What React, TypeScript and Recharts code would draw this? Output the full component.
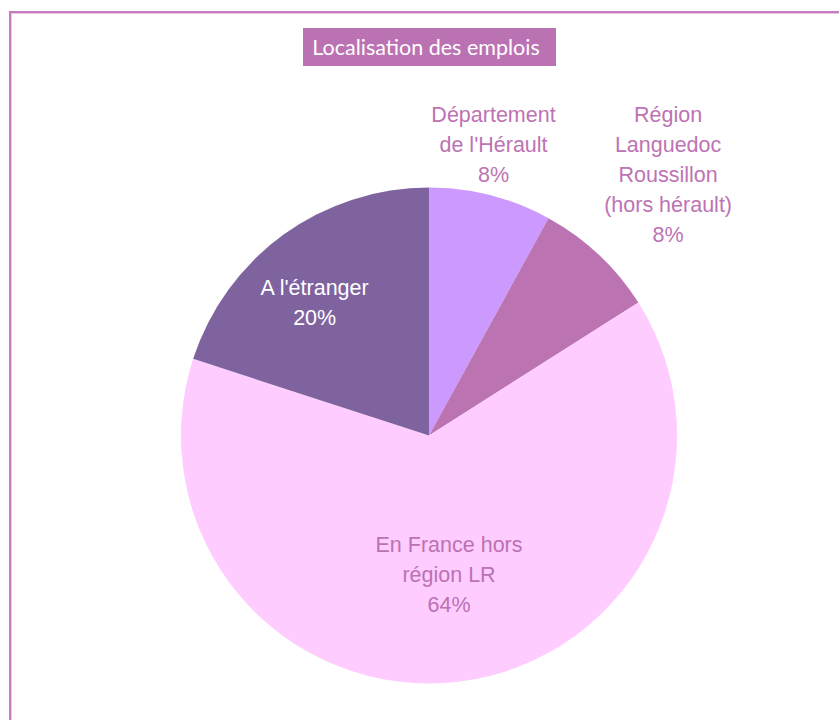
import React from "react";
import { PieChart, Pie, Cell } from "recharts";

const categories = [
  "Département de l'Hérault",
  "Région Languedoc Roussillon (hors hérault)",
  "En France hors région LR",
  "A l'étranger",
];
const values = [8, 8, 64, 20];
const labelLines = [
  ["Département", "de l'Hérault"],
  ["Région", "Languedoc", "Roussillon", "(hors hérault)"],
  ["En France hors", "région LR"],
  ["A l'étranger"],
];
const title = "Localisation des emplois";

const colors = ["#cc99ff", "#bb73b2", "#ffccff", "#7f639f"];
const textColors = ["#bd73b4", "#bd73b4", "#bb72b2", "#ffffff"];
// label placement: radius factor and angle offset (degrees) per slice
const labelRadius = [1.202, 1.427, 0.566, 0.707];
const labelAngleDelta = [1.9, 0.7, 1.0, 4.7];

const data = categories.map((name, i) => ({ name, value: values[i], idx: i }));

const RAD = Math.PI / 180;

const renderLabel = (props: any) => {
  const { cx, cy, midAngle, outerRadius, index, percent } = props;
  const r = outerRadius * labelRadius[index];
  const a = midAngle + labelAngleDelta[index];
  const x = cx + r * Math.cos(-a * RAD);
  const y = cy + r * Math.sin(-a * RAD);
  const lines = [...labelLines[index], `${Math.round(percent * 100)}%`];
  const lh = 30;
  const first = y - ((lines.length - 1) * lh) / 2 + 7.5;
  return (
    <text
      x={x}
      y={first}
      textAnchor="middle"
      fill={textColors[index]}
      style={{ fontFamily: "'Liberation Sans', Arial, sans-serif", fontSize: 21.5 }}
    >
      {lines.map((l, i) => (
        <tspan key={i} x={x} y={first + i * lh}>
          {l}
        </tspan>
      ))}
    </text>
  );
};

export default function App() {
  return (
    <div style={{ position: "fixed", left: 0, top: 0, width: 839, height: 720, overflow: "hidden", background: "#fff" }}>
      <div
        style={{
          position: "absolute",
          left: 9,
          top: 11,
          width: 900,
          height: 900,
          border: "2px solid #c47cbf",
          boxShadow: "inset 0 0 0 1px #e8c6e4",
          boxSizing: "border-box",
        }}
      />
      <div style={{ position: "absolute", left: 0, top: 0 }}>
        <PieChart width={839} height={720} margin={{ top: 0, right: 0, bottom: 0, left: 0 }}>
          <Pie
            data={data}
            dataKey="value"
            nameKey="name"
            cx={429}
            cy={435.5}
            outerRadius={248}
            startAngle={90}
            endAngle={-270}
            stroke="none"
            label={renderLabel}
            labelLine={false}
            isAnimationActive={false}
          >
            {data.map((d, i) => (
              <Cell key={d.name} fill={colors[i]} />
            ))}
          </Pie>
        </PieChart>
      </div>
      <div
        style={{
          position: "absolute",
          left: 303,
          top: 28,
          width: 253,
          height: 38,
          boxSizing: "border-box",
          paddingRight: 7,
          background: "#bb72b2",
          color: "#ffffff",
          fontFamily: "Lato, 'Open Sans', sans-serif",
          fontSize: 21.5,
          lineHeight: "38px",
          textAlign: "center",
          whiteSpace: "nowrap",
        }}
      >
        {title}
      </div>
    </div>
  );
}
